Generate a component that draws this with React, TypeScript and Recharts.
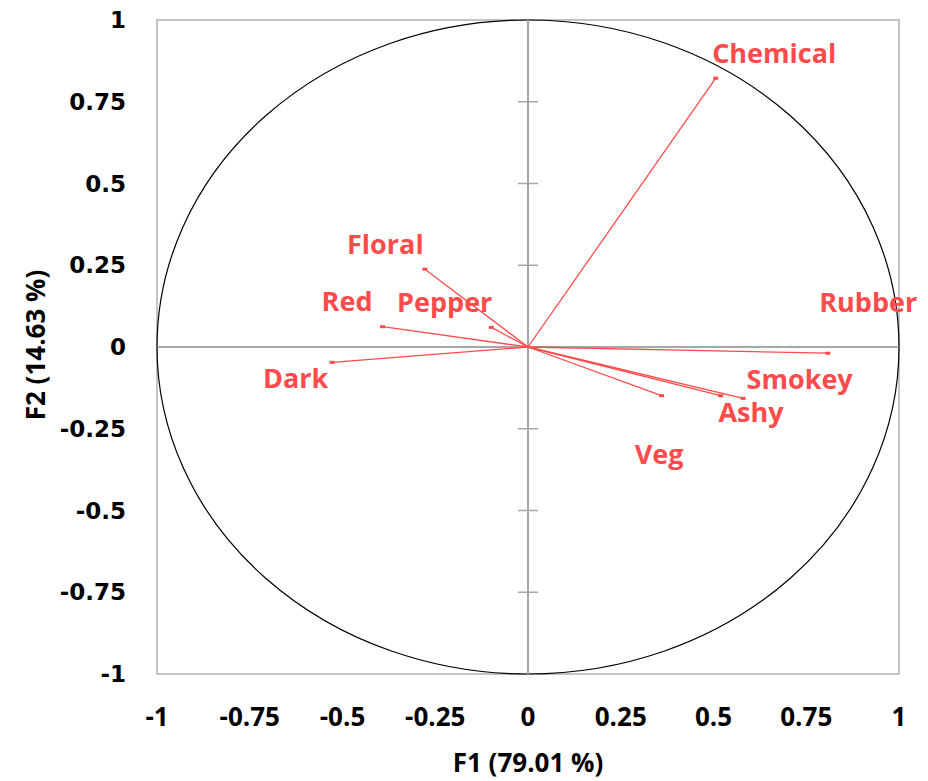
import {
  ScatterChart,
  Scatter,
  XAxis,
  YAxis,
  ReferenceLine,
  ReferenceArea,
  LabelList,
  Label,
} from 'recharts';

const variables = ['Chemical', 'Floral', 'Red', 'Pepper', 'Dark', 'Rubber', 'Smokey', 'Ashy', 'Veg'];
const f1 = [0.506, -0.278, -0.392, -0.099, -0.528, 0.808, 0.58, 0.519, 0.36];
const f2 = [0.822, 0.238, 0.062, 0.06, -0.047, -0.019, -0.157, -0.149, -0.149];
const axisTicks = [-1, -0.75, -0.5, -0.25, 0, 0.25, 0.5, 0.75, 1];

// label nudges in px (dx, dy from the arrow tip)
const labelDx = [63, -35, -31, -42, -32, 45, 61, 35, 2];
const labelDy = [-21, -21, -22, -21, 20, -47, -15, 20, 62];

const points = variables.map((name, i) => ({ name, x: f1[i], y: f2[i], i }));

const RED = '#ff4b4b';
const LABEL_FONT = '"Open Sans", sans-serif';

const XTick = (props: any) => {
  const { x, y, payload } = props;
  return (
    <text
      x={x}
      y={y + 42}
      textAnchor="middle"
      dominantBaseline="central"
      fontFamily={LABEL_FONT}
      fontWeight="bold"
      fontSize={26}
      fill="#000"
    >
      {payload.value}
    </text>
  );
};

const YTick = (props: any) => {
  const { x, y, payload } = props;
  return (
    <text
      x={x - 31}
      y={y}
      textAnchor="end"
      dominantBaseline="central"
      fontFamily='"DejaVu Sans", sans-serif'
      fontWeight="bold"
      fontSize={23}
      fill="#000"
    >
      {payload.value}
    </text>
  );
};

const Ellipse = (props: any) => {
  const { x, y, width, height } = props;
  return (
    <ellipse
      cx={x + width / 2}
      cy={y + height / 2}
      rx={width / 2}
      ry={height / 2}
      fill="none"
      stroke="#000"
      strokeWidth={1.2}
    />
  );
};

const Tip = (props: any) => {
  const { cx, cy } = props;
  return <rect x={cx - 2.5} y={cy - 1.5} width={5} height={3} fill={RED} />;
};

const VarLabel = (props: any) => {
  const { x, y, value, index } = props;
  return (
    <text
      x={x + labelDx[index]}
      y={y + labelDy[index]}
      textAnchor="middle"
      dominantBaseline="central"
      fontFamily={LABEL_FONT}
      fontWeight="bold"
      fontSize={27}
      fill={RED}
    >
      {value}
    </text>
  );
};

export default function App() {
  return (
    <ScatterChart
      width={920}
      height={773}
      margin={{ top: 12, right: 29, bottom: 0, left: 0 }}
    >
      <XAxis
        type="number"
        dataKey="x"
        domain={[-1, 1]}
        ticks={axisTicks}
        axisLine={false}
        tickLine={false}
        tickSize={0}
        tickMargin={0}
        height={107}
        tick={<XTick />}
        interval={0}
      >
        <Label
          content={(p: any) => (
            <text
              x={p.viewBox.x + p.viewBox.width / 2}
              y={p.viewBox.y + 88}
              textAnchor="middle"
              dominantBaseline="central"
              fontFamily={LABEL_FONT}
              fontWeight="bold"
              fontSize={26}
              fill="#000"
            >
              F1 (79.01 %)
            </text>
          )}
        />
      </XAxis>
      <YAxis
        type="number"
        dataKey="y"
        domain={[-1, 1]}
        ticks={axisTicks}
        axisLine={false}
        tickLine={false}
        tickSize={0}
        tickMargin={0}
        width={149}
        tick={<YTick />}
        interval={0}
      >
        <Label
          content={(p: any) => {
            const cx = 27;
            const cy = p.viewBox.y + p.viewBox.height / 2 - 2;
            return (
              <text
                x={cx}
                y={cy}
                transform={`rotate(-90 ${cx} ${cy})`}
                textAnchor="middle"
                dominantBaseline="central"
                fontFamily={LABEL_FONT}
                fontWeight="bold"
                fontSize={26}
                fill="#000"
              >
                F2 (14.63 %)
              </text>
            );
          }}
        />
      </YAxis>

      <ReferenceArea x1={-1} x2={1} y1={-1} y2={1} fill="none" stroke="#c4c4c4" strokeWidth={2} fillOpacity={0} />
      <ReferenceArea x1={-1} x2={1} y1={-1} y2={1} shape={<Ellipse />} />

      <ReferenceLine y={0} stroke="#8a8a8a" strokeWidth={1.5} />
      <ReferenceLine x={0} stroke="#a6a6a6" strokeWidth={2} />
      {axisTicks
        .filter((t) => t !== 0 && Math.abs(t) !== 1)
        .map((t) => (
          <ReferenceLine
            key={`tk${t}`}
            segment={[{ x: -0.027, y: t }, { x: 0.027, y: t }]}
            stroke="#a6a6a6"
            strokeWidth={1.5}
          />
        ))}

      {points.map((p) => (
        <ReferenceLine
          key={p.name}
          segment={[{ x: 0, y: 0 }, { x: p.x, y: p.y }]}
          stroke={RED}
          strokeWidth={1.3}
        />
      ))}

      <Scatter data={points} shape={<Tip />} isAnimationActive={false}>
        <LabelList dataKey="name" content={<VarLabel />} />
      </Scatter>
    </ScatterChart>
  );
}
